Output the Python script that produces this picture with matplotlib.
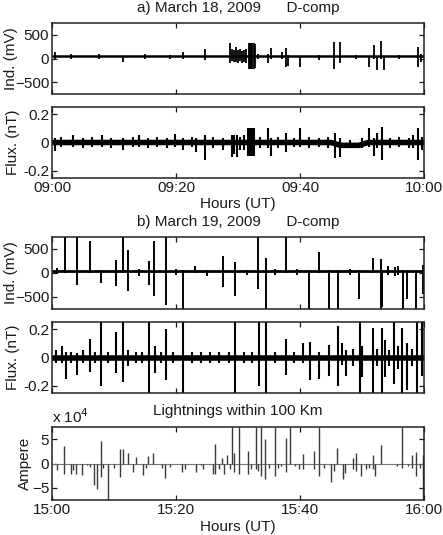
import numpy as np
import matplotlib
matplotlib.use('Agg')
import matplotlib.pyplot as plt

plt.rcParams['font.family'] = ['Liberation Sans', 'DejaVu Sans']
plt.rcParams['font.size'] = 11

# time axis in minutes after the hour
xticks = [0, 20, 40, 60]
xlabels_a = ['09:00', '09:20', '09:40', '10:00']
xlabels_b = ['15:00', '15:20', '15:40', '16:00']

# ---- a) March 18, 2009, induction (mV): spike time, top, bottom
a_ind_t = [0.5, 3.0, 7.5, 11.5, 15.0, 19.0, 21.2, 24.7, 28.7, 29.0, 29.3, 29.7, 30.0,
           30.3, 30.7, 31.0, 31.3, 31.7, 31.9, 32.1, 32.3, 32.5, 32.7, 33.3, 34.8,
           35.4, 37.1, 37.7, 38.0, 40.0, 43.0, 45.5, 46.5, 49.0, 51.1, 51.9, 52.4,
           53.1, 53.5, 56.0, 59.1, 59.5]
a_ind_up = [140, 90, 90, 60, 90, 80, 140, 210, 320, 200, 180, 250, 180,
            200, 160, 180, 200, 320, 320, 320, 320, 320, 300, 100, 100,
            215, 140, 215, 80, 60, 80, 340, 340, 70, 60, 290, 60,
            370, 60, 70, 250, 90]
a_ind_dn = [0, -20, 0, -70, -10, 0, 0, -35, -100, -60, -80, -70, -90,
            -60, -100, -80, -90, -215, -215, -215, -215, -215, -200, -20, -100,
            0, 0, -180, -150, -180, -30, -215, -100, -20, -180, 0, -240,
            0, -240, -20, -180, -70]
a_ind_base_t = [0, 60]
a_ind_base = [50, 50]

# ---- a) flux (nT)
a_flux_t = [0.5, 1.5, 3.4, 5.0, 6.5, 8.0, 9.5, 11.5, 13.0, 14.0, 15.5, 17.0, 18.5,
            19.8, 21.2, 22.5, 23.3, 24.7, 26.0, 27.5, 29.0, 29.4, 29.8, 30.3, 31.0,
            31.6, 31.9, 32.2, 32.6, 33.5, 34.8, 35.3, 36.5, 37.7, 39.0, 40.0, 41.5,
            43.0, 44.5, 45.6, 46.5, 48.0, 50.0, 51.1, 51.9, 52.4, 53.2, 54.5, 56.0,
            57.5, 58.3, 59.1, 59.6]
a_flux_up = [0.03, 0.04, 0.05, 0.03, 0.04, 0.05, 0.03, 0.03, 0.04, 0.05, 0.03, 0.04, 0.03,
             0.06, 0.03, 0.04, 0.03, 0.055, 0.04, 0.03, 0.05, 0.05, 0.05, 0.04, 0.05,
             0.1, 0.1, 0.1, 0.1, 0.04, 0.1, 0.03, 0.04, 0.07, 0.03, 0.1, 0.04,
             0.03, 0.04, 0.065, 0.03, 0.02, 0.03, 0.1, 0.03, 0.07, 0.11, 0.03, 0.04,
             0.03, 0.05, 0.1, 0.04]
a_flux_dn = [-0.06, -0.03, -0.03, -0.04, -0.03, -0.03, -0.04, -0.05, -0.03, -0.03, -0.04, -0.03, -0.04,
             -0.03, -0.05, -0.03, -0.07, -0.12, -0.04, -0.05, -0.105, -0.08, -0.105, -0.05, -0.05,
             -0.095, -0.095, -0.095, -0.095, -0.04, -0.04, -0.095, -0.04, -0.07, -0.03, -0.03, -0.04,
             -0.03, -0.04, -0.11, -0.105, -0.04, -0.04, -0.03, -0.095, -0.04, -0.12, -0.04, -0.03,
             -0.04, -0.04, -0.12, -0.05]
a_flux_base_t = [0, 45.0, 46.5, 49.5, 51.0, 60]
a_flux_base = [0, 0, -0.02, -0.02, 0, 0]

# ---- b) March 19, 2009, induction (mV)
b_ind_t = [0.8, 2.1, 4.1, 6.1, 7.9, 10.4, 11.5, 12.2, 14.0, 15.7, 16.5, 18.4, 20.0, 21.1,
           23.0, 25.0, 27.5, 29.5, 31.5, 33.3, 34.5, 36.0, 37.7, 39.5, 41.4, 43.1, 44.7,
           46.1, 48.0, 49.5, 51.7, 53.0, 53.3, 54.2, 55.3, 55.8, 56.6, 57.3, 58.7, 59.8]
b_ind_up = [100, 760, 760, 670, 60, 270, 760, 480, 80, 255, 660, 760, 80, 60,
            150, 70, 360, 220, 60, 760, 310, 80, 760, 80, 60, 430, 60,
            60, 80, 60, 310, 290, 60, 150, 120, 150, 60, 60, 60, 160]
b_ind_dn = [-30, 0, -245, 0, -215, -265, 0, -370, -60, -245, -475, -670, -40, -760,
            0, -60, -285, -475, -40, -335, -760, -40, 0, -40, -760, 0, -760,
            -760, -40, -540, 0, -760, -715, -40, -60, -40, -760, -540, -760, -440]
b_ind_base_t = [0, 60]
b_ind_base = [40, 40]

# ---- b) flux (nT)
b_flux_t = [0.6, 1.6, 2.2, 3.0, 4.1, 5.0, 6.1, 7.0, 7.9, 9.0, 10.4, 11.5, 12.3, 13.5, 14.5,
            15.7, 16.6, 17.5, 18.4, 19.5, 21.1, 22.5, 24.0, 25.5, 27.0, 28.5, 29.5, 31.0,
            32.2, 33.4, 34.5, 36.0, 37.8, 39.0, 40.5, 41.6, 43.1, 44.7, 46.2, 46.7, 47.4,
            48.5, 49.6, 50.0, 51.7, 52.4, 53.2, 53.7, 54.4, 55.2, 55.8, 56.4, 57.2, 58.0,
            58.8, 59.6]
b_flux_up = [0.05, 0.08, 0.04, 0.04, 0.03, 0.05, 0.13, 0.04, 0.26, 0.04, 0.18, 0.26, 0.05, 0.04, 0.04,
             0.26, 0.08, 0.04, 0.2, 0.04, 0.26, 0.04, 0.04, 0.04, 0.04, 0.04, 0.26, 0.04,
             0.04, 0.26, 0.26, 0.04, 0.13, 0.04, 0.1, 0.11, 0.04, 0.09, 0.22, 0.1, 0.05,
             0.06, 0.26, 0.08, 0.21, 0.06, 0.21, 0.12, 0.05, 0.26, 0.08, 0.21, 0.1, 0.06,
             0.26, 0.26]
b_flux_dn = [-0.04, -0.04, -0.15, -0.04, -0.12, -0.04, -0.1, -0.04, -0.2, -0.04, -0.11, -0.17, -0.06, -0.04, -0.04,
             -0.26, -0.11, -0.04, -0.16, -0.04, -0.26, -0.04, -0.04, -0.04, -0.04, -0.04, -0.26, -0.04,
             -0.04, -0.2, -0.26, -0.04, -0.12, -0.04, -0.04, -0.16, -0.15, -0.13, -0.2, -0.05, -0.13,
             -0.06, -0.26, -0.14, -0.26, -0.06, -0.26, -0.14, -0.06, -0.19, -0.08, -0.26, -0.23, -0.06,
             -0.26, -0.13]
b_flux_base_t = [0, 60]
b_flux_base = [0, 0]

# ---- lightnings within 100 km (x 10^4 A)
lt_t = [0.75, 1.9, 1.9, 3.0, 3.4, 3.9, 4.8, 5.7, 6.2, 6.7, 7.2, 7.9, 7.9, 8.3, 9.1, 10.0,
        10.9, 10.9, 11.4, 12.2, 13.1, 13.6, 14.6, 15.1, 15.5, 16.3, 17.7, 18.2, 19.0,
        20.9, 21.5, 23.2, 24.0, 24.4, 25.9, 26.3, 26.3, 26.9, 27.4, 27.7, 28.2, 28.7,
        29.1, 29.4, 29.4, 30.1, 30.1, 31.6, 31.6, 32.1, 32.9, 32.9, 33.3, 33.7, 33.7,
        34.4, 34.4, 35.0, 36.0, 36.0, 36.5, 36.9, 37.7, 37.7, 38.4, 39.2, 39.8, 40.5,
        40.5, 42.3, 42.3, 43.0, 43.0, 43.9, 45.0, 45.5, 46.0, 46.9, 47.3, 48.5, 48.5,
        49.1, 49.1, 49.8, 50.6, 51.2, 51.7, 51.7, 52.1, 53.0, 55.7, 56.4, 56.4, 57.4,
        58.1, 58.1, 58.7, 58.7, 59.4, 59.9, 59.9]
lt_v = [-1.4, 3.6, -2.1, -2.1, -1.4, -2.1, -2.4, -0.4, -0.7, -4.5, -5.3, 4.7, -2.8, -0.9, -7.6, -0.9,
        3.1, -2.8, 3.1, 2.1, -1.8, 1.3, -2.4, -0.9, 1.5, 2.1, -0.9, -3.1, -0.7,
        -1.8, -1.1, -1.8, -0.4, -1.2, -2.1, 4.0, -2.2, -1.1, 1.1, -2.1, 1.8, -1.1,
        7.6, 2.1, -1.8, 7.6, -2.2, 2.5, -2.2, -1.2, 7.6, -1.2, -1.5, 7.6, -2.6,
        5.2, -3.2, -0.9, 7.6, -2.7, -0.9, -0.6, 5.3, -1.8, 7.6, -0.5, -1.1, 2.0,
        -1.2, 2.7, -1.2, 7.6, -2.6, -0.9, -3.9, -1.6, 3.3, -3.2, -1.9, 1.2, -1.1,
        2.2, -1.6, -2.6, -1.2, -0.9, 1.7, -1.2, -2.6, 3.9, -0.5, 7.6, -0.9, -0.5,
        1.8, -0.9, 2.3, -2.6, -0.9, 1.8, -7.6]

txt = '#1a1a1a'
W, H = 443, 535


def make_ax(top, bottom):
    ax = fig.add_axes([52 / W, 1 - bottom / H, 372 / W, (bottom - top) / H])
    ax.set_xlim(0, 60)
    ax.set_xticks(xticks)
    ax.tick_params(direction='in', top=True, right=True, length=3.5, width=0.9,
                   colors=txt, labelsize=11, pad=2)
    for s in ax.spines.values():
        s.set_linewidth(1.1)
        s.set_color('#222222')
    return ax


def spikes(ax, t, up, dn, bt, bv, lw_base, lw_spike):
    ax.plot(bt, bv, color='black', lw=lw_base, solid_capstyle='butt')
    ax.vlines(t, dn, up, color='black', lw=lw_spike)


fig = plt.figure(figsize=(W / 100, H / 100), dpi=100)

# panel a
ax1 = make_ax(23, 94)
spikes(ax1, a_ind_t, a_ind_up, a_ind_dn, a_ind_base_t, a_ind_base, 1.8, 1.3)
ax1.set_ylim(-750, 750)
ax1.set_yticks([-500, 0, 500])
ax1.set_xticklabels([])
ax1.set_ylabel('Ind. (mV)', color=txt)
ax1.yaxis.set_label_coords(-0.092, 0.5)

ax2 = make_ax(107, 178)
spikes(ax2, a_flux_t, a_flux_up, a_flux_dn, a_flux_base_t, a_flux_base, 4.0, 1.5)
ax2.set_ylim(-0.25, 0.25)
ax2.set_yticks([-0.2, 0, 0.2])
ax2.set_yticklabels(['-0.2', '0', '0.2'])
ax2.set_xticklabels(xlabels_a)
ax2.set_ylabel('Flux. (nT)', color=txt)
ax2.yaxis.set_label_coords(-0.085, 0.5)

fig.text(238 / W, 1 - 8 / H, 'a) March 18, 2009      D-comp', ha='center', va='center', color=txt)
fig.text(238 / W, 1 - 204 / H, 'Hours (UT)', ha='center', va='center', color=txt)
fig.text(238 / W, 1 - 222 / H, 'b) March 19, 2009      D-comp', ha='center', va='center', color=txt)

# panel b
ax3 = make_ax(237, 309)
spikes(ax3, b_ind_t, b_ind_up, b_ind_dn, b_ind_base_t, b_ind_base, 2.0, 1.4)
ax3.set_ylim(-750, 750)
ax3.set_yticks([-500, 0, 500])
ax3.set_xticklabels([])
ax3.set_ylabel('Ind. (mV)', color=txt)
ax3.yaxis.set_label_coords(-0.092, 0.5)

ax4 = make_ax(322, 393)
spikes(ax4, b_flux_t, b_flux_up, b_flux_dn, b_flux_base_t, b_flux_base, 4.0, 1.5)
ax4.set_ylim(-0.25, 0.25)
ax4.set_yticks([-0.2, 0, 0.2])
ax4.set_yticklabels(['-0.2', '0', '0.2'])
ax4.set_xticklabels([])
ax4.set_ylabel('Flux. (nT)', color=txt)
ax4.yaxis.set_label_coords(-0.085, 0.5)

fig.text(238 / W, 1 - 411 / H, 'Lightnings within 100 Km', ha='center', va='center', color=txt)

# lightning panel
ax5 = make_ax(427, 500)
ax5.axhline(0, color='#777777', lw=0.8)
ax5.vlines(lt_t, 0, lt_v, color='#3a3a3a', lw=1.0)
ax5.set_ylim(-7.6, 7.6)
ax5.set_yticks([-5, 0, 5])
ax5.set_xticklabels(xlabels_b)
ax5.set_ylabel('Ampere', color=txt)
ax5.yaxis.set_label_coords(-0.054, 0.5)
ax5.text(0.0, 1.02, 'x 10$^4$', transform=ax5.transAxes, ha='left', va='bottom', color=txt)
fig.text(238 / W, 1 - 527 / H, 'Hours (UT)', ha='center', va='center', color=txt)

fig.savefig('out.png', dpi=100)
